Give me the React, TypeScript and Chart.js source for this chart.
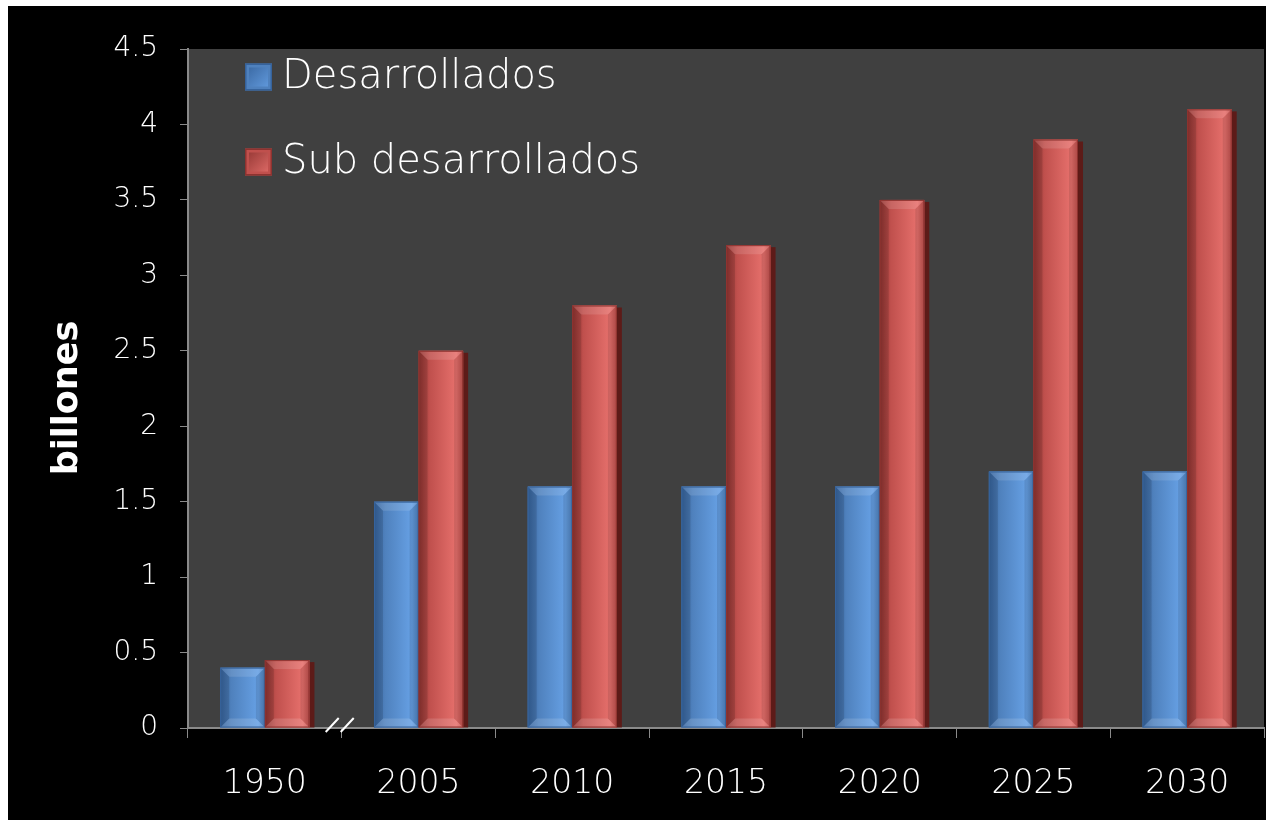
import React, { useEffect, useRef } from "react";
import { Chart, registerables } from "chart.js";

Chart.register(...registerables);

const categories = ["1950", "2005", "2010", "2015", "2020", "2025", "2030"];
const desarrollados = [0.4, 1.5, 1.6, 1.6, 1.6, 1.7, 1.7];
const subDesarrollados = [0.45, 2.5, 2.8, 3.2, 3.5, 3.9, 4.1];
const seriesNames = ["Desarrollados", "Sub desarrollados"];
const yTitle = "billones";

const FONT = '"DejaVu Sans", Lato, sans-serif';

const palette = [
  { base: "#4F81BD", light: "#66A0E4", dark: "#36639C", shadow: "rgba(20,40,70,0.6)" },
  { base: "#C0504D", light: "#E6706C", dark: "#8E3330", shadow: "rgba(95,25,22,0.95)" },
];

const bgPlugin = {
  id: "plotBg",
  beforeDraw(chart: any) {
    const { ctx, chartArea } = chart;
    ctx.save();
    ctx.fillStyle = "#000000";
    ctx.fillRect(0, 0, chart.width, chart.height);
    ctx.fillStyle = "#404040";
    ctx.fillRect(chartArea.left, chartArea.top, chartArea.right - chartArea.left, chartArea.bottom - chartArea.top);
    ctx.restore();
  },
  beforeDatasetsDraw(chart: any) {
    const { ctx } = chart;
    ctx.save();
    chart.data.datasets.forEach((ds: any, di: number) => {
      const meta = chart.getDatasetMeta(di);
      meta.data.forEach((bar: any) => {
        const w = bar.width;
        const right = bar.x + w / 2;
        ctx.fillStyle = palette[di].shadow;
        ctx.fillRect(right - 1, bar.y + 2, 6, bar.base - bar.y - 2);
      });
    });
    ctx.restore();
  },
  afterDatasetsDraw(chart: any) {
    const { ctx } = chart;
    ctx.save();
    chart.data.datasets.forEach((ds: any, di: number) => {
      const meta = chart.getDatasetMeta(di);
      const p = palette[di];
      meta.data.forEach((bar: any) => {
        const w = bar.width;
        const l = bar.x - w / 2;
        const r = bar.x + w / 2;
        const t = bar.y;
        const b = bar.base;
        const bev = Math.min(9, (b - t) / 2);
        const g = ctx.createLinearGradient(l, 0, r, 0);
        g.addColorStop(0, p.dark);
        g.addColorStop(0.25, p.base);
        g.addColorStop(0.85, p.light);
        g.addColorStop(1, p.base);
        ctx.fillStyle = g;
        ctx.fillRect(l, t, w, b - t);
        ctx.fillStyle = "rgba(255,255,255,0.12)";
        ctx.beginPath();
        ctx.moveTo(l, t);
        ctx.lineTo(r, t);
        ctx.lineTo(r - bev, t + bev);
        ctx.lineTo(l + bev, t + bev);
        ctx.closePath();
        ctx.fill();
        ctx.fillStyle = "rgba(255,255,255,0.14)";
        ctx.beginPath();
        ctx.moveTo(l, b);
        ctx.lineTo(r, b);
        ctx.lineTo(r - bev, b - bev);
        ctx.lineTo(l + bev, b - bev);
        ctx.closePath();
        ctx.fill();
        ctx.fillStyle = "rgba(0,0,0,0.12)";
        ctx.beginPath();
        ctx.moveTo(l, t);
        ctx.lineTo(l + bev, t + bev);
        ctx.lineTo(l + bev, b - bev);
        ctx.lineTo(l, b);
        ctx.closePath();
        ctx.fill();
        ctx.fillStyle = "rgba(0,0,0,0.1)";
        ctx.beginPath();
        ctx.moveTo(r, t);
        ctx.lineTo(r - bev, t + bev);
        ctx.lineTo(r - bev, b - bev);
        ctx.lineTo(r, b);
        ctx.closePath();
        ctx.fill();
        ctx.strokeStyle = p.dark;
        ctx.lineWidth = 1;
        ctx.strokeRect(l + 0.5, t + 0.5, w - 1, b - t - 1);
      });
    });
    ctx.restore();
  },
  afterDraw(chart: any) {
    const { ctx, chartArea } = chart;
    ctx.save();
    const rows = [chartArea.top + 28, chartArea.top + 113];
    chart.data.datasets.forEach((ds: any, di: number) => {
      const p = palette[di];
      const bx = chartArea.left + 57;
      const cy = rows[di];
      const s = 27;
      const by = cy - s / 2;
      ctx.fillStyle = p.base;
      ctx.fillRect(bx, by, s, s);
      const g = ctx.createLinearGradient(bx, by, bx + s, by + s);
      g.addColorStop(0, p.dark);
      g.addColorStop(1, p.light);
      ctx.fillStyle = g;
      ctx.fillRect(bx + 4, by + 4, s - 8, s - 8);
      ctx.strokeStyle = p.dark;
      ctx.lineWidth = 1.5;
      ctx.strokeRect(bx + 0.75, by + 0.75, s - 1.5, s - 1.5);
      ctx.fillStyle = "#ffffff";
      ctx.font = `200 40px ${FONT}`;
      ctx.textAlign = "left";
      ctx.textBaseline = "middle";
      ctx.fillText(ds.label, chartArea.left + 94, cy + 1);
    });
    ctx.translate(60, chartArea.top + 349);
    ctx.rotate(-Math.PI / 2);
    ctx.fillStyle = "#ffffff";
    ctx.font = `bold 35px ${FONT}`;
    ctx.textAlign = "center";
    ctx.textBaseline = "middle";
    ctx.fillText(yTitle, 0, 0);
    ctx.restore();
    const xs = chart.scales.x;
    const step = (xs.right - xs.left) / categories.length;
    const bx = xs.left + step;
    const y0 = chartArea.bottom;
    ctx.save();
    ctx.strokeStyle = "#ffffff";
    ctx.lineWidth = 2;
    [-10, 5].forEach((off) => {
      ctx.beginPath();
      ctx.moveTo(bx + off - 6, y0 + 4);
      ctx.lineTo(bx + off + 7, y0 - 10);
      ctx.stroke();
    });
    ctx.restore();
  },
};

export default function App() {
  const ref = useRef<HTMLCanvasElement | null>(null);
  useEffect(() => {
    if (!ref.current) return;
    const chart = new Chart(ref.current, {
      type: "bar",
      data: {
        labels: categories,
        datasets: [
          { label: seriesNames[0], data: desarrollados, backgroundColor: palette[0].base, borderWidth: 0 },
          { label: seriesNames[1], data: subDesarrollados, backgroundColor: palette[1].base, borderWidth: 0 },
        ],
      },
      options: {
        animation: false,
        responsive: false,
        maintainAspectRatio: false,
        layout: { padding: { top: 43, right: 2, left: 0, bottom: 0 } },
        datasets: { bar: { categoryPercentage: 0.58, barPercentage: 1 } },
        plugins: { legend: { display: false }, tooltip: { enabled: false }, title: { display: false } },
        scales: {
          x: {
            offset: true,
            grid: { drawOnChartArea: false, drawTicks: true, tickLength: 10, color: "#8a8a8a", offset: true },
            border: { color: "#8a8a8a", width: 2 },
            ticks: { color: "#ffffff", font: { family: FONT, size: 33, weight: 200 }, padding: 27 },
            afterFit: (s: any) => { s.height = 92; },
          },
          y: {
            min: 0,
            max: 4.5,
            grid: { drawOnChartArea: false, drawTicks: true, tickLength: 8, color: "#8a8a8a" },
            border: { color: "#8a8a8a", width: 2 },
            ticks: {
              stepSize: 0.5,
              color: "#ffffff",
              font: { family: FONT, size: 28, weight: 200 },
              padding: 22,
              callback: (v: any) => String(v),
            },
            afterFit: (s: any) => { s.width = 180; },
          },
        },
      },
      plugins: [bgPlugin],
    });
    return () => chart.destroy();
  }, []);
  return (
    <div style={{ position: "absolute", left: 8, top: 6, width: 1258, height: 814, background: "#000" }}>
      <canvas ref={ref} width={1258} height={814} style={{ display: "block" }} />
    </div>
  );
}
